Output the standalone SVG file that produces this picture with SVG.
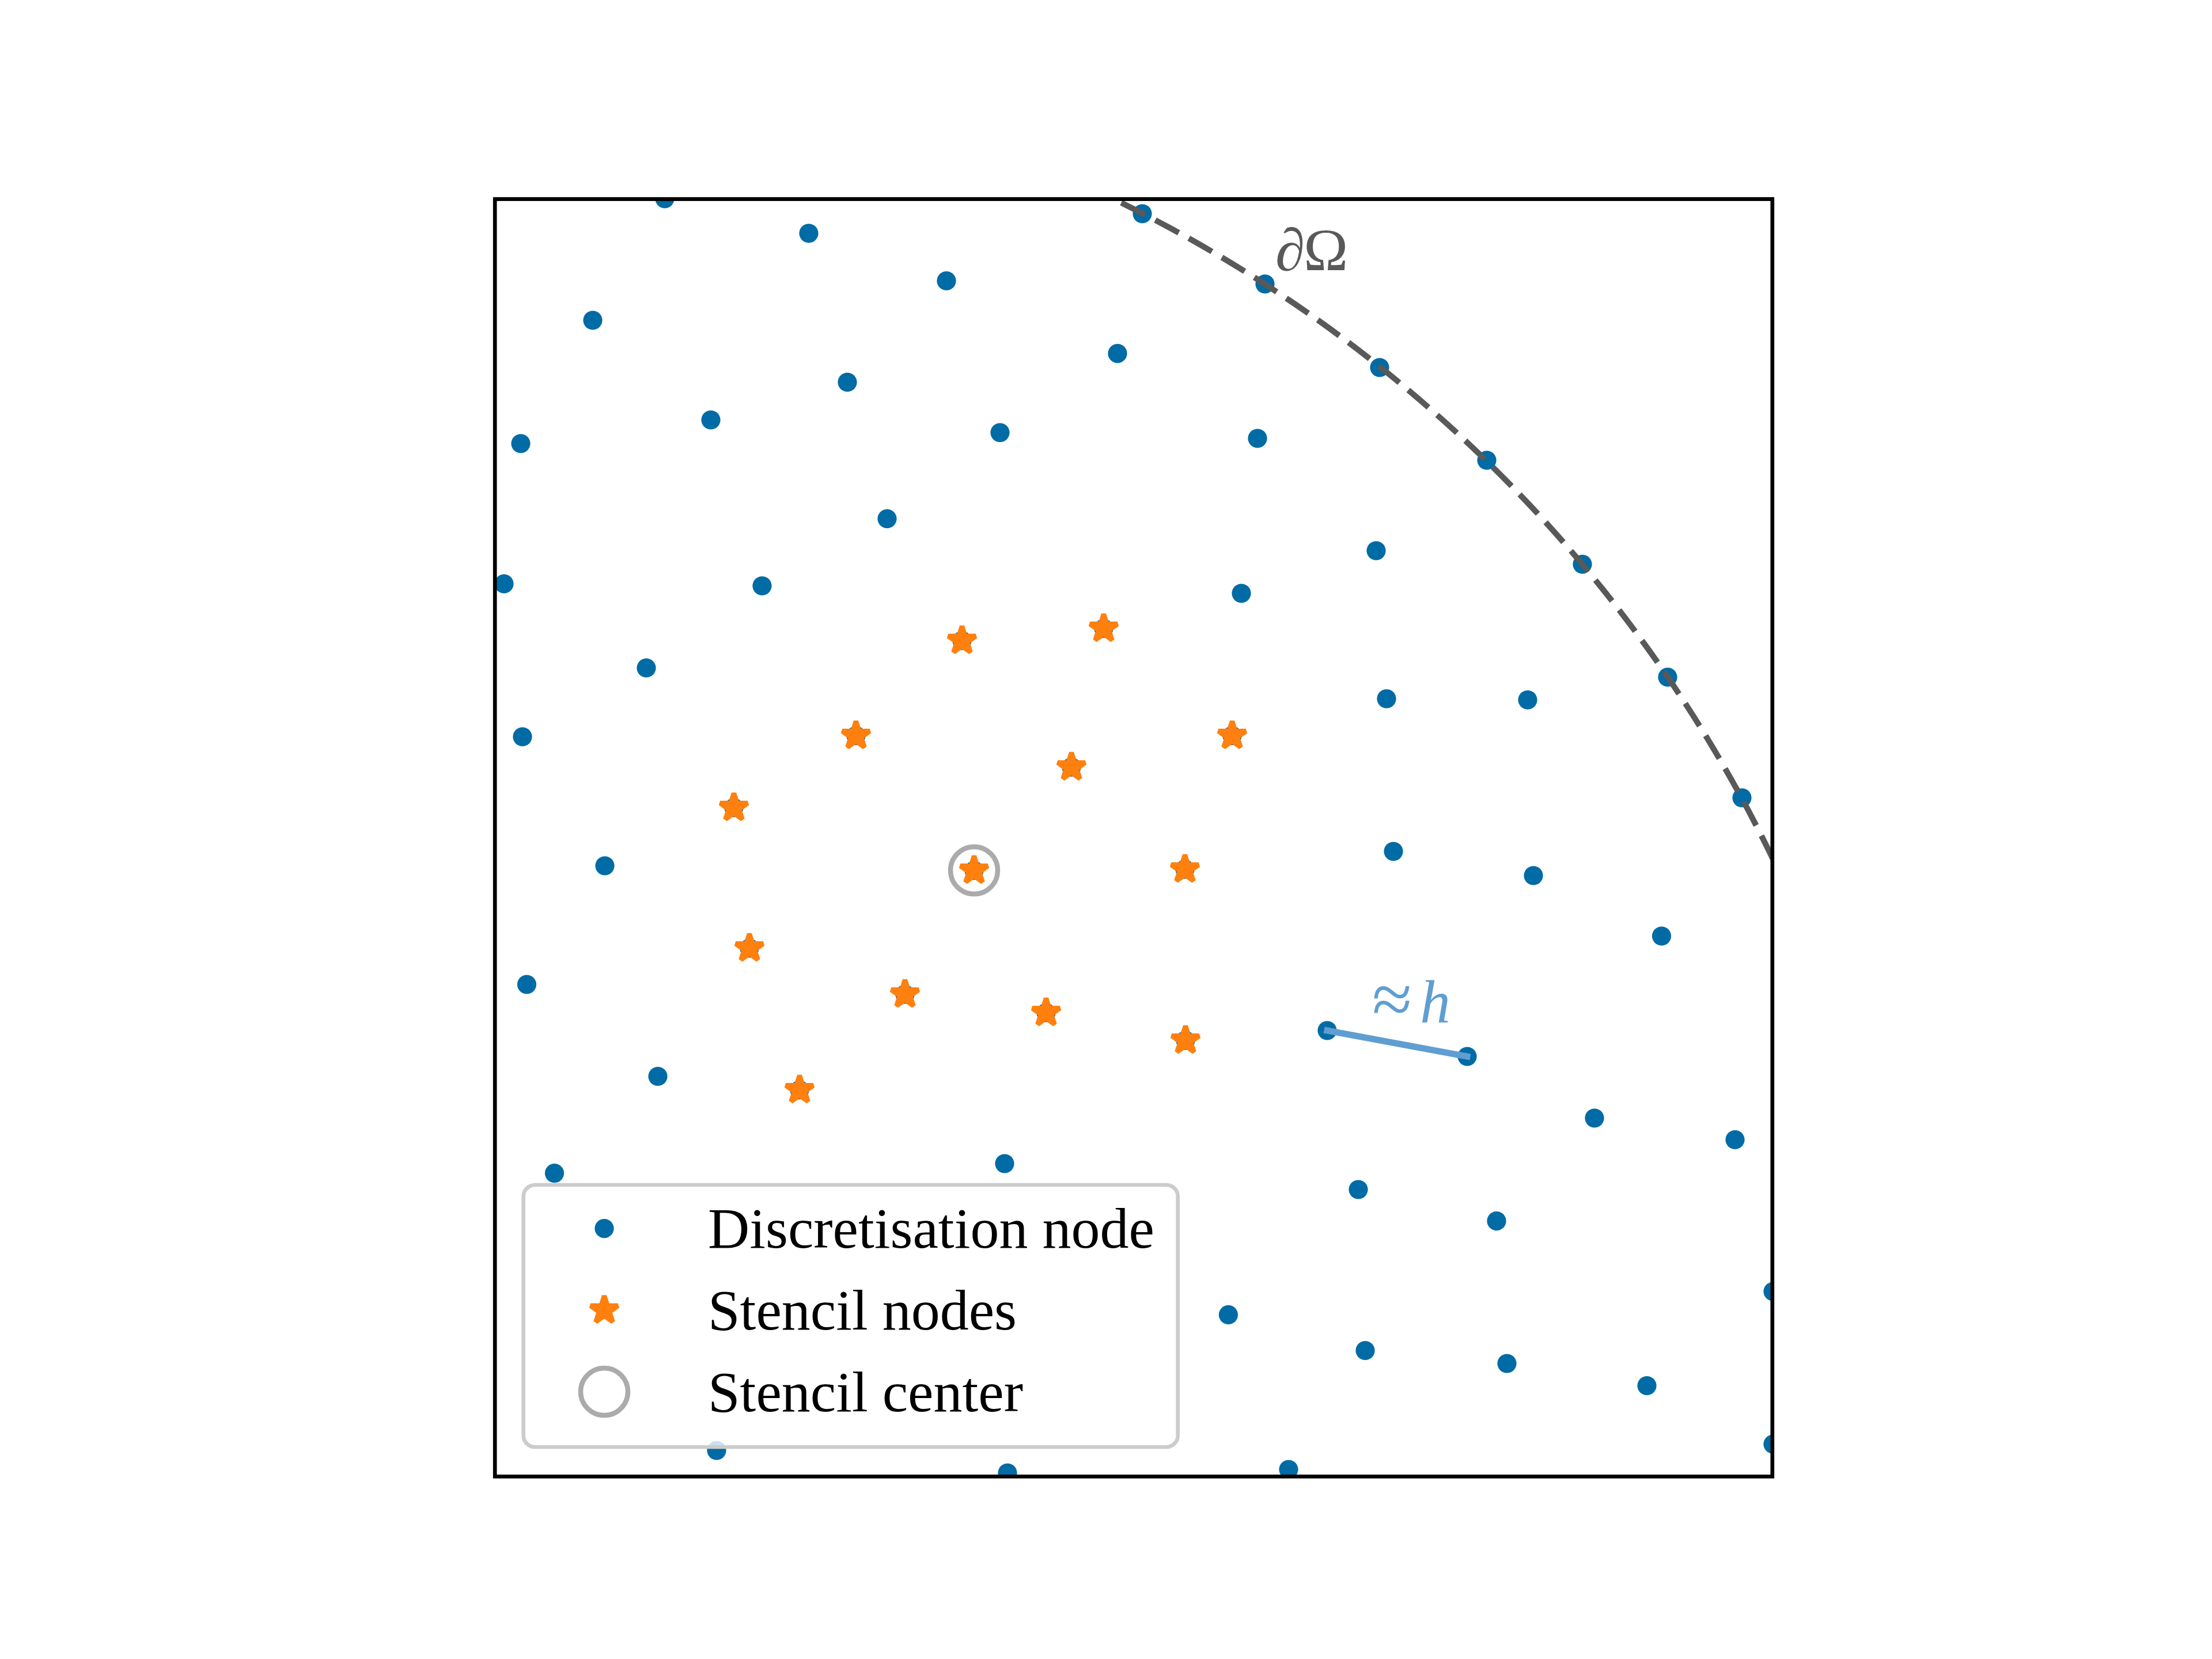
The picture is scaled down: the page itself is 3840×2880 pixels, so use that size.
<svg xmlns="http://www.w3.org/2000/svg" width="3840" height="2880" viewBox="0 0 3840 2880">
<style>
.dot{fill:#006BA4}
.star{fill:#FF800E;stroke:#FF800E;stroke-width:8.33;stroke-linejoin:bevel}
.ring{fill:none;stroke:#ABABAB;stroke-width:8.5}
.lbl{font-family:"Liberation Serif","Times New Roman",serif;font-size:100px;fill:#000}
.math{font-family:"Liberation Serif","Times New Roman",serif;font-size:104px}
</style>
<defs>
<clipPath id="ax"><rect x="859.2" y="345.6" width="2217.6" height="2217.6"/></clipPath>
<circle id="dot" class="dot" r="16.6"/>
<polygon id="star" class="star" points="0,-25 5.613,-7.725 23.776,-7.725 9.082,2.951 14.695,20.225 0,9.549 -14.695,20.225 -9.082,2.951 -23.776,-7.725 -5.613,-7.725"/>
</defs>
<rect width="3840" height="2880" fill="#fff"/>
<g clip-path="url(#ax)">
<g id="discretisation-nodes">
<use href="#dot" x="1154" y="345"/>
<use href="#dot" x="1404" y="405"/>
<use href="#dot" x="1983" y="371"/>
<use href="#dot" x="1029" y="556"/>
<use href="#dot" x="1643" y="487.5"/>
<use href="#dot" x="2196" y="493"/>
<use href="#dot" x="1234" y="729"/>
<use href="#dot" x="1471" y="663.5"/>
<use href="#dot" x="1940" y="613.6"/>
<use href="#dot" x="2395" y="638"/>
<use href="#dot" x="904" y="770"/>
<use href="#dot" x="1736" y="751"/>
<use href="#dot" x="2183" y="761"/>
<use href="#dot" x="2581" y="799"/>
<use href="#dot" x="1540" y="900.5"/>
<use href="#dot" x="875" y="1013.5"/>
<use href="#dot" x="1323" y="1017"/>
<use href="#dot" x="2389" y="956"/>
<use href="#dot" x="2747" y="979.5"/>
<use href="#dot" x="2155" y="1030"/>
<use href="#dot" x="1122" y="1159.5"/>
<use href="#dot" x="907" y="1279"/>
<use href="#dot" x="2407" y="1213"/>
<use href="#dot" x="2652" y="1215"/>
<use href="#dot" x="2895" y="1175.5"/>
<use href="#dot" x="3024" y="1385"/>
<use href="#dot" x="1050" y="1503"/>
<use href="#dot" x="2419" y="1478"/>
<use href="#dot" x="2662" y="1520"/>
<use href="#dot" x="2884.5" y="1625"/>
<use href="#dot" x="914.5" y="1709"/>
<use href="#dot" x="1142" y="1868.5"/>
<use href="#dot" x="2304" y="1789"/>
<use href="#dot" x="2547" y="1834"/>
<use href="#dot" x="2768" y="1941"/>
<use href="#dot" x="3012" y="1978.5"/>
<use href="#dot" x="962.5" y="2036.7"/>
<use href="#dot" x="1744" y="2020"/>
<use href="#dot" x="2358" y="2065"/>
<use href="#dot" x="2598" y="2119.6"/>
<use href="#dot" x="3078" y="2242"/>
<use href="#dot" x="2132.4" y="2282.4"/>
<use href="#dot" x="2370" y="2344.5"/>
<use href="#dot" x="2616" y="2367"/>
<use href="#dot" x="2859" y="2405.5"/>
<use href="#dot" x="3078" y="2507"/>
<use href="#dot" x="1244" y="2518"/>
<use href="#dot" x="1749" y="2557"/>
<use href="#dot" x="2237" y="2551"/>
<use href="#dot" x="1670" y="1112"/>
<use href="#dot" x="1916" y="1091"/>
<use href="#dot" x="1486" y="1277"/>
<use href="#dot" x="1860" y="1331.6"/>
<use href="#dot" x="2139" y="1277"/>
<use href="#dot" x="1274" y="1402"/>
<use href="#dot" x="1691" y="1511"/>
<use href="#dot" x="2057" y="1509"/>
<use href="#dot" x="1301" y="1646"/>
<use href="#dot" x="1571" y="1726"/>
<use href="#dot" x="1816" y="1758"/>
<use href="#dot" x="2058" y="1806"/>
<use href="#dot" x="1388" y="1892"/>
</g>
<g id="connectors">
<path id="boundary" d="M3323.2,2563.2 A2464,2464 0 0 0 859.2,99.2" fill="none" stroke="#595959" stroke-width="10" stroke-dasharray="46.25 20" stroke-dashoffset="18.25"/>
<line id="h-segment" x1="2304" y1="1789" x2="2547" y2="1834" stroke="#5F9ED1" stroke-width="11" stroke-linecap="square"/>
</g>
<g id="stencil-nodes">
<use href="#star" x="1670" y="1112"/>
<use href="#star" x="1916" y="1091"/>
<use href="#star" x="1486" y="1277"/>
<use href="#star" x="1860" y="1331.6"/>
<use href="#star" x="2139" y="1277"/>
<use href="#star" x="1274" y="1402"/>
<use href="#star" x="1691" y="1511"/>
<use href="#star" x="2057" y="1509"/>
<use href="#star" x="1301" y="1646"/>
<use href="#star" x="1571" y="1726"/>
<use href="#star" x="1816" y="1758"/>
<use href="#star" x="2058" y="1806"/>
<use href="#star" x="1388" y="1892"/>
</g>
<g id="stencil-center">
<circle class="ring" cx="1691" cy="1511" r="41"/>
</g>
</g>
<g id="labels">
<text id="boundary-label" class="math" x="2214" y="469" fill="#595959">∂<tspan x="2263">Ω</tspan></text>
<text id="h-label" class="math" x="2382" y="1777" fill="#5F9ED1"><tspan font-size="126px">≈</tspan><tspan x="2465" y="1775" font-style="italic" font-size="106px">h</tspan></text>
</g>
<g id="axes-frame">
<rect x="859.2" y="345.6" width="2217.6" height="2217.6" fill="none" stroke="#000" stroke-width="6.67"/>
</g>
<g id="legend">
<rect x="908.7" y="2057" width="1136" height="455" rx="20" ry="20" fill="#fff" fill-opacity="0.8" stroke="#CCCCCC" stroke-width="6.67"/>
<use href="#dot" x="1049" y="2132.6"/>
<use href="#star" x="1049" y="2274.5"/>
<circle class="ring" cx="1049" cy="2416" r="41"/>
<text class="lbl" x="1229" y="2166">Discretisation node</text>
<text class="lbl" x="1229" y="2308">Stencil nodes</text>
<text class="lbl" x="1229" y="2450">Stencil center</text>
</g>
</svg>
